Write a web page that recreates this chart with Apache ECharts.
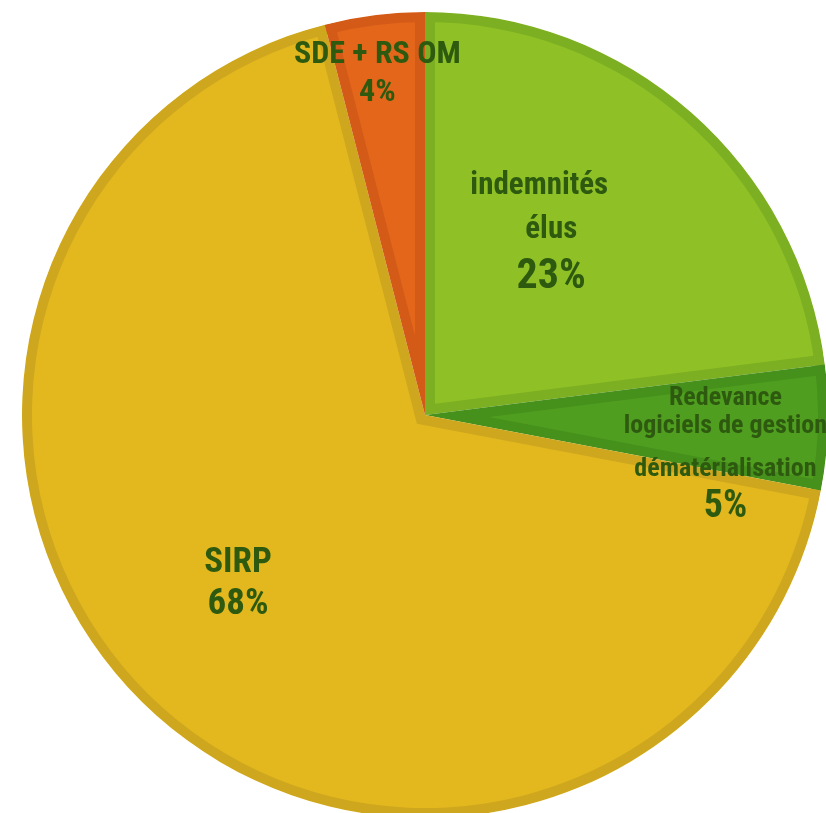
<!DOCTYPE html>
<html>
<head>
<meta charset="utf-8">
<script src="https://cdn.jsdelivr.net/npm/echarts@6/dist/echarts.min.js"></script>
<style>
html, body { margin: 0; padding: 0; background: #fff; }
#pie { width: 826px; height: 813px; }
</style>
</head>
<body>
<div id="pie"></div>
<script>
// données du graphique
const categories = ['indemnités\nélus', 'Redevance\nlogiciels de gestion\ndématérialisation', 'SIRP', 'SDE + RS OM'];
const values = [23, 5, 68, 4];
const percentLabels = ['23%', '5%', '68%', '4%'];

// couleurs : remplissage et liseré intérieur
const fillColors = ['#8fc127', '#4f9e20', '#e3b81f', '#e4661a'];
const edgeColors = ['#7caf22', '#46901c', '#cfa71e', '#d35b17'];

const center = [425, 415];
const R = 403;
const band = 10; // largeur du liseré

// décalage des étiquettes par rapport à la position "inside"
const labelShift = [[-21, -28], [96, 29], [-47, 20], [-22, -138]];
const labelStyle = [
  { name: 31, nameLH: [44, 44], pct: 42, pctLH: 50, indent: [0, 24, 24] },
  { name: 26, nameLH: [28, 28, 58], pct: 38, pctLH: 18 },
  { name: 35, nameLH: [42], pct: 37, pctLH: 42 },
  { name: 32, nameLH: [38], pct: 32, pctLH: 38 }
];
const font = "'Roboto Condensed', 'Liberation Sans', sans-serif";
const textColor = '#2e5a10';

const total = values.reduce((a, b) => a + b, 0);
const clear = 'rgba(0,0,0,0)';

const rich = {};
labelStyle.forEach((s, i) => {
  const indent = s.indent || [];
  s.nameLH.forEach((lh, k) => {
    rich['n' + i + '_' + k] = {
      fontSize: s.name, lineHeight: lh, fontWeight: 'bold', fontFamily: font, color: textColor,
      align: 'center', padding: [0, 0, 0, indent[k] || 0]
    };
  });
  rich['p' + i] = {
    fontSize: s.pct, lineHeight: s.pctLH, fontWeight: 'bold', fontFamily: font, color: textColor,
    align: 'center', padding: [0, 0, 0, indent[s.nameLH.length] || 0]
  };
});

const series = [];

// fond : chaque part dans sa teinte foncée
series.push({
  type: 'pie', center: center, radius: [0, R], startAngle: 90, silent: true,
  label: { show: false }, labelLine: { show: false },
  data: values.map((v, i) => ({ name: categories[i], value: v, itemStyle: { color: edgeColors[i] } }))
});

// parts claires, décalées vers l'intérieur pour laisser le liseré
values.forEach((val, i) => {
  const half = val / total * Math.PI;
  const shift = band / Math.sin(half);
  const rBig = R - shift * Math.cos(half);
  series.push({
    type: 'pie', center: center, radius: [0, rBig], startAngle: 90, silent: true,
    selectedMode: 'single', selectedOffset: shift,
    label: { show: false }, labelLine: { show: false },
    data: values.map((v, j) => ({
      name: categories[j], value: v, selected: j === i,
      itemStyle: { color: j === i ? fillColors[j] : clear },
      select: { itemStyle: { color: j === i ? fillColors[j] : clear, borderWidth: 0 } }
    }))
  });
});

// liseré extérieur
series.push({
  type: 'pie', center: center, radius: [R - band, R], startAngle: 90, silent: true, z: 4,
  label: { show: false }, labelLine: { show: false },
  data: values.map((v, i) => ({ name: categories[i], value: v, itemStyle: { color: edgeColors[i] } }))
});
// masque blanc autour
series.push({
  type: 'pie', center: center, radius: [R, R + 30], startAngle: 90, silent: true, z: 4,
  label: { show: false }, labelLine: { show: false },
  itemStyle: { color: '#fff' },
  data: values.map((v, i) => ({ name: categories[i], value: v }))
});

// étiquettes
series.push({
  type: 'pie', center: center, radius: [0, R], startAngle: 90, silent: true, z: 10,
  itemStyle: { color: clear },
  label: {
    show: true, position: 'inside', rotate: 0,
    formatter: function (p) {
      const i = p.dataIndex;
      const lines = categories[i].split('\n').map((t, k) => '{n' + i + '_' + k + '|' + t + '}');
      lines.push('{p' + i + '|' + percentLabels[i] + '}');
      return lines.join('\n');
    },
    rich: rich
  },
  labelLine: { show: false },
  labelLayout: function (p) {
    return { dx: labelShift[p.dataIndex][0], dy: labelShift[p.dataIndex][1] };
  },
  data: values.map((v, i) => ({ name: categories[i], value: v }))
});

const chart = echarts.init(document.getElementById('pie'));
chart.setOption({
  animation: false,
  backgroundColor: '#fff',
  series: series
});
</script>
</body>
</html>
